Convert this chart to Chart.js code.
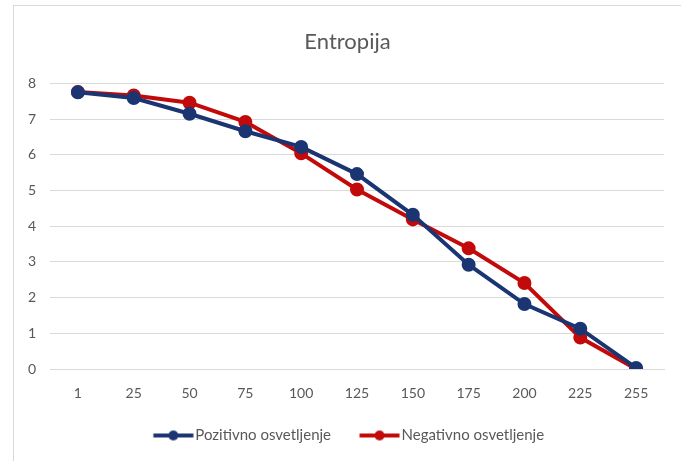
<!DOCTYPE html>
<html>
<head>
<meta charset="utf-8">
<script src="https://cdn.jsdelivr.net/npm/chart.js@4/dist/chart.umd.min.js"></script>
<style>
  html, body { margin: 0; padding: 0; background: #fff; }
  #wrap {
    position: absolute; left: 13px; top: 5px;
    width: 667px; height: 455px;
    border-left: 1px solid #d9d9d9; border-top: 1px solid #d9d9d9;
  }
</style>
</head>
<body>
<div id="wrap"><canvas id="entropyChart"></canvas></div>
<script>
// brightness steps on the x axis
const levels = ['1', '25', '50', '75', '100', '125', '150', '175', '200', '225', '255'];

// entropy per step
const positive = [7.75, 7.59, 7.15, 6.66, 6.22, 5.46, 4.32, 2.92, 1.82, 1.13, 0.03];
const negative = [7.76, 7.66, 7.46, 6.92, 6.04, 5.03, 4.19, 3.38, 2.41, 0.88, 0.0];

const yTicks = [0, 1, 2, 3, 4, 5, 6, 7, 8];

const blue = '#1b3572';
const red = '#c30a0a';
const textGray = '#595959';
const gridGray = '#d9d9d9';
const font = 'Lato, "Open Sans", sans-serif';

const legendFontSize = 15;
const legendBoxWidth = 53;

// line with a dot in the middle, used as legend marker;
// it reaches past the box so the text sits close to the line
const legendMarker = (color) => {
    const w = legendBoxWidth + 12;
    const c = document.createElement('canvas');
    c.width = w;
    c.height = 12;
    const g = c.getContext('2d');
    const end = legendBoxWidth + 11.5;
    g.strokeStyle = color;
    g.lineWidth = 4;
    g.beginPath();
    g.moveTo(end - 40, 6);
    g.lineTo(end, 6);
    g.stroke();
    g.fillStyle = color;
    g.beginPath();
    g.arc(end - 20, 6, 5, 0, Math.PI * 2);
    g.fill();
    return c;
};

// title centred on the whole canvas, legend nudged so the visible part is centred
const centreBlocks = {
    id: 'centreBlocks',
    afterLayout(chart) {
        const shifts = [[chart.titleBlock, 0], [chart.legend, -8]];
        for (const [box, dx] of shifts) {
            if (box) {
                box.left = dx;
                box.right = chart.width + dx;
                box.width = chart.width;
            }
        }
    }
};

const ctx = document.getElementById('entropyChart').getContext('2d');
const entropyChart = new Chart(ctx, {
    type: 'line',
    data: {
        labels: levels,
        datasets: [{
            label: 'Pozitivno osvetljenje',
            data: positive,
            borderColor: blue,
            backgroundColor: blue,
            borderWidth: 4,
            pointRadius: 5,
            pointHoverRadius: 5,
            fill: false,
            tension: 0
        }, {
            label: 'Negativno osvetljenje',
            data: negative,
            borderColor: red,
            backgroundColor: red,
            borderWidth: 4,
            pointRadius: 5,
            pointHoverRadius: 5,
            fill: false,
            tension: 0
        }]
    },
    plugins: [centreBlocks],
    options: {
        responsive: true,
        maintainAspectRatio: false,
        animation: false,
        layout: {
            padding: { left: 0, right: 17, top: 0, bottom: 8 }
        },
        plugins: {
            title: {
                display: true,
                text: 'Entropija',
                color: textGray,
                font: { family: font, size: 22, weight: 'normal' },
                padding: { top: 23, bottom: 28 }
            },
            legend: {
                position: 'bottom',
                labels: {
                    color: textGray,
                    font: { family: font, size: legendFontSize },
                    usePointStyle: true,
                    pointStyleWidth: legendBoxWidth,
                    padding: 10,
                    generateLabels: (chart) => chart.data.datasets.map((ds, i) => ({
                        text: ds.label,
                        fillStyle: ds.borderColor,
                        strokeStyle: ds.borderColor,
                        fontColor: textGray,
                        lineWidth: 0,
                        pointStyle: legendMarker(ds.borderColor),
                        datasetIndex: i
                    }))
                }
            },
            tooltip: { enabled: false }
        },
        scales: {
            x: {
                offset: true,
                grid: { display: false, drawTicks: false },
                border: { display: true, color: gridGray, width: 1 },
                ticks: {
                    color: textGray,
                    font: { family: font, size: 14 },
                    padding: 16
                },
                afterFit: (scale) => { scale.height = 49; }
            },
            y: {
                min: 0,
                max: 8,
                afterBuildTicks: (scale) => {
                    scale.ticks = yTicks.map(v => ({ value: v }));
                },
                grid: { color: gridGray, lineWidth: 1, drawTicks: false },
                border: { display: false },
                ticks: {
                    color: textGray,
                    font: { family: font, size: 14 },
                    padding: 14
                },
                afterFit: (scale) => { scale.width = 36; }
            }
        }
    }
});
</script>
</body>
</html>
